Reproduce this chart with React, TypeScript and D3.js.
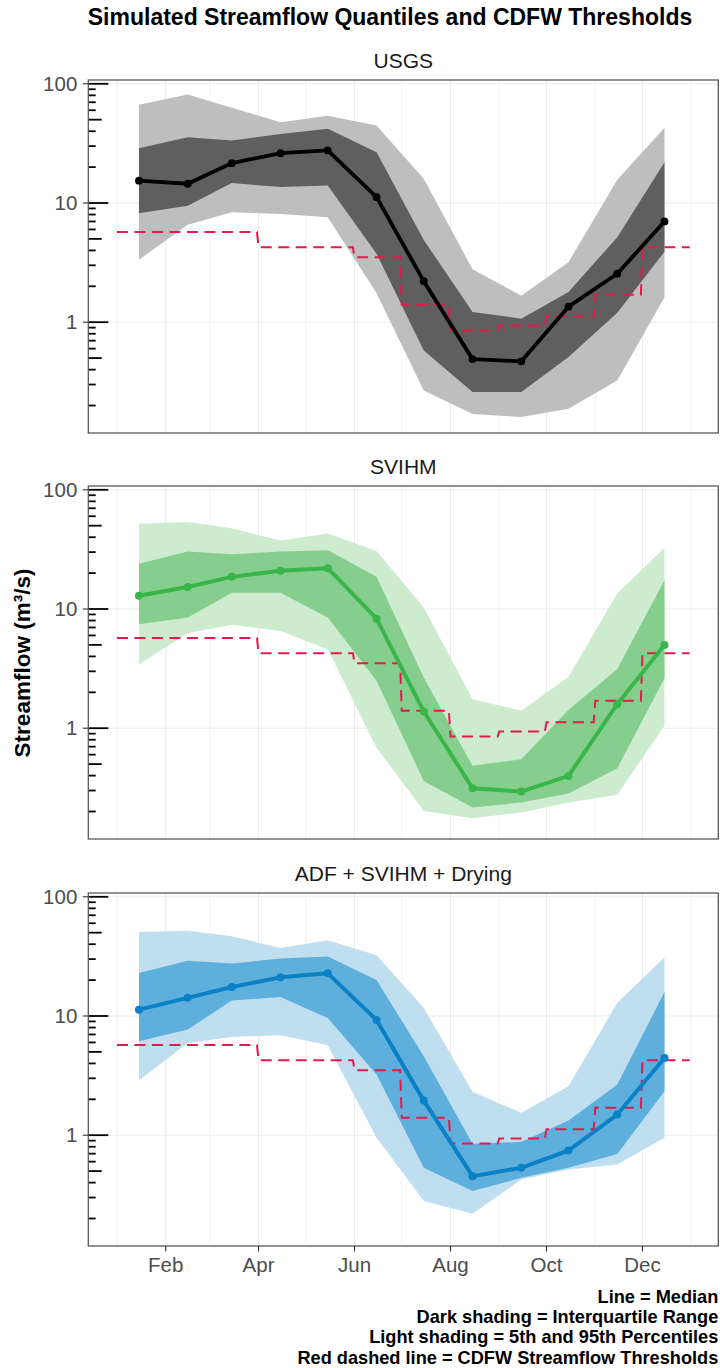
import React from 'react';
import * as d3 from 'd3';

// ---------- data ----------
const months = ['Jan', 'Feb', 'Mar', 'Apr', 'May', 'Jun', 'Jul', 'Aug', 'Sep', 'Oct', 'Nov', 'Dec'];
const YEAR = 2021;

// CDFW monthly thresholds (m3/s)
const thresholdValues = [5.7, 5.7, 5.7, 4.25, 4.25, 3.5, 1.4, 0.85, 0.94, 1.12, 1.7, 4.25];

// USGS
const usgsMedian = [15.4, 14.5, 21.6, 26.2, 27.6, 11.2, 2.21, 0.49, 0.47, 1.35, 2.55, 7.0];
const usgsQ25 = [8.2, 9.5, 14.7, 13.6, 14.0, 3.75, 0.58, 0.26, 0.26, 0.51, 1.2, 3.9];
const usgsQ75 = [28.8, 35.6, 33.4, 38.0, 41.9, 26.7, 4.9, 1.22, 1.07, 1.79, 5.17, 22.0];
const usgsQ05 = [3.34, 6.56, 8.37, 8.1, 7.6, 1.75, 0.267, 0.17, 0.16, 0.188, 0.324, 1.62];
const usgsQ95 = [66.7, 81.3, 63.0, 47.6, 54.0, 44.7, 16.0, 2.78, 1.67, 3.19, 15.7, 42.8];

// SVIHM
const svihmMedian = [12.9, 15.3, 18.6, 20.9, 22.0, 8.3, 1.38, 0.314, 0.294, 0.398, 1.59, 5.0];
const svihmQ25 = [7.45, 8.47, 13.7, 13.7, 8.47, 2.5, 0.361, 0.216, 0.238, 0.283, 0.462, 2.63];
const svihmQ75 = [24.0, 30.3, 28.8, 30.3, 31.1, 18.6, 2.66, 0.483, 0.55, 1.42, 3.13, 17.4];
const svihmQ05 = [3.44, 6.27, 7.36, 6.55, 4.6, 0.687, 0.202, 0.176, 0.196, 0.238, 0.276, 1.05];
const svihmQ95 = [52.0, 53.8, 47.6, 37.3, 42.9, 30.7, 10.3, 1.75, 1.4, 2.7, 13.5, 32.7];

// ADF + SVIHM + Drying
const adfMedian = [11.3, 14.2, 17.5, 21.1, 22.8, 9.26, 1.95, 0.453, 0.532, 0.744, 1.49, 4.45];
const adfQ25 = [6.14, 7.69, 13.5, 14.4, 9.6, 3.23, 0.532, 0.34, 0.439, 0.532, 0.697, 2.34];
const adfQ75 = [22.9, 29.1, 27.5, 30.3, 31.6, 20.0, 4.6, 0.846, 0.879, 1.33, 2.66, 15.9];
const adfQ05 = [2.87, 5.94, 6.67, 6.89, 5.68, 0.95, 0.28, 0.219, 0.425, 0.515, 0.568, 0.95];
const adfQ95 = [50.6, 52.0, 46.6, 37.2, 43.1, 32.3, 11.7, 2.31, 1.54, 2.57, 12.9, 31.0];

const panelNames = ['USGS', 'SVIHM', 'ADF + SVIHM + Drying'];
const yTickValues = [1, 10, 100];
const yTickLabels = ['1', '10', '100'];
const xTickMonths = [1, 3, 5, 7, 9, 11];
const xTickLabels = ['Feb', 'Apr', 'Jun', 'Aug', 'Oct', 'Dec'];
const captionLines = [
  'Line = Median',
  'Dark shading = Interquartile Range',
  'Light shading = 5th and 95th Percentiles',
  'Red dashed line = CDFW Streamflow Thresholds',
];

const panels = [
  { name: panelNames[0], med: usgsMedian, q25: usgsQ25, q75: usgsQ75, q05: usgsQ05, q95: usgsQ95,
    light: '#BEBEBE', dark: '#5F5F5F', line: '#000000', lw: 3.8, r: 3.9 },
  { name: panelNames[1], med: svihmMedian, q25: svihmQ25, q75: svihmQ75, q05: svihmQ05, q95: svihmQ95,
    light: '#CDEBCF', dark: '#86CE8D', line: '#3AB54A', lw: 4.0, r: 4.0 },
  { name: panelNames[2], med: adfMedian, q25: adfQ25, q75: adfQ75, q05: adfQ05, q95: adfQ95,
    light: '#BFDFF0', dark: '#5EAFDB', line: '#0A80C6', lw: 4.0, r: 4.0 },
];

// ---------- layout ----------
const W = 720;
const H = 1368;
const left = 88.3;
const right = 718.3;
const panelTops = [80, 486, 893];
const panelH = 353;
const FONT = '"Liberation Sans", Arial, Helvetica, sans-serif';

const dStart = new Date(YEAR, 0, 1);
const dEnd = new Date(YEAR, 11, 31);
const pad = 0.05 * (+dEnd - +dStart);
const x = d3.scaleTime().domain([new Date(+dStart - pad), new Date(+dEnd + pad)]).range([left, right]);

const midDates = months.map((_, i) => new Date(YEAR, i, 15));
const majorGrid = xTickMonths.map((m) => new Date(YEAR, m, 1));
const minorGrid = [0, 2, 4, 6, 8, 10, 12].map((m) => new Date(YEAR, m, 1));

const thresholdPts: [Date, number][] = [];
thresholdValues.forEach((v, i) => {
  thresholdPts.push([new Date(YEAR, i, 1), v]);
  thresholdPts.push([new Date(YEAR, i + 1, 0), v]);
});

const logTickVals: { v: number; kind: 'long' | 'mid' | 'short' }[] = [];
[0.1, 1, 10, 100].forEach((dec) => {
  for (let k = 1; k <= 9; k++) {
    logTickVals.push({ v: dec * k, kind: k === 1 ? 'long' : k === 5 ? 'mid' : 'short' });
  }
});
const tickLen = { long: 20, mid: 13.4, short: 7.4 };

function Panel({ p, top, showX }: any) {
  const y = d3.scaleLog().domain([0.1176, 107.6]).range([top + panelH, top]);
  const bottom = top + panelH;
  const idx = d3.range(p.med.length);
  const areaOuter = d3.area<number>().x((i) => x(midDates[i])).y0((i) => y(p.q05[i])).y1((i) => y(p.q95[i]));
  const areaInner = d3.area<number>().x((i) => x(midDates[i])).y0((i) => y(p.q25[i])).y1((i) => y(p.q75[i]));
  const medLine = d3.line<number>().x((i) => x(midDates[i])).y((i) => y(p.med[i]));
  const thrLine = d3.line<[Date, number]>().x((d) => x(d[0])).y((d) => y(d[1]));
  const [y0, y1] = y.domain();
  return (
    <g>
      <text x={(left + right) / 2} y={top - 12.5} textAnchor="middle" fontSize={21} fill="#1A1A1A" fontFamily={FONT}>
        {p.name}
      </text>
      <rect x={left} y={top} width={right - left} height={panelH} fill="#FFFFFF" />
      {minorGrid.map((d, i) => (
        <line key={'mg' + i} x1={x(d)} x2={x(d)} y1={top} y2={bottom} stroke="#F0F0F0" strokeWidth={0.9} />
      ))}
      {majorGrid.map((d, i) => (
        <line key={'Mg' + i} x1={x(d)} x2={x(d)} y1={top} y2={bottom} stroke="#EBEBEB" strokeWidth={1.1} />
      ))}
      {yTickValues.map((v, i) => (
        <line key={'hg' + i} x1={left} x2={right} y1={y(v)} y2={y(v)} stroke="#EBEBEB" strokeWidth={1.1} />
      ))}
      <path d={areaOuter(idx) || ''} fill={p.light} />
      <path d={areaInner(idx) || ''} fill={p.dark} />
      <path d={thrLine(thresholdPts) || ''} fill="none" stroke="#E31A4B" strokeWidth={2} strokeDasharray="11 6.5" />
      <path d={medLine(idx) || ''} fill="none" stroke={p.line} strokeWidth={p.lw} strokeLinejoin="round" />
      {idx.map((i) => (
        <circle key={'pt' + i} cx={x(midDates[i])} cy={y(p.med[i])} r={p.r} fill={p.line} />
      ))}
      {logTickVals
        .filter((t) => t.v >= y0 && t.v <= y1)
        .map((t, i) => (
          <line key={'lt' + i} x1={left} x2={left + tickLen[t.kind]} y1={y(t.v)} y2={y(t.v)} stroke="#000" strokeWidth={1.8} />
        ))}
      <rect x={left} y={top} width={right - left} height={panelH} fill="none" stroke="#595959" strokeWidth={1.3} />
      {yTickValues.map((v, i) => (
        <g key={'yt' + i}>
          <line x1={left - 5.5} x2={left} y1={y(v)} y2={y(v)} stroke="#333333" strokeWidth={1.1} />
          <text x={left - 11} y={y(v) + 7.3} textAnchor="end" fontSize={20.5} fill="#4D4D4D" fontFamily={FONT}>
            {yTickLabels[i]}
          </text>
        </g>
      ))}
      {showX &&
        xTickMonths.map((m, i) => {
          const xx = x(new Date(YEAR, m, 1));
          return (
            <g key={'xt' + i}>
              <line x1={xx} x2={xx} y1={bottom} y2={bottom + 5.5} stroke="#333333" strokeWidth={1.1} />
              <text x={xx} y={bottom + 26} textAnchor="middle" fontSize={20.5} fill="#4D4D4D" fontFamily={FONT}>
                {xTickLabels[i]}
              </text>
            </g>
          );
        })}
    </g>
  );
}

export default function App() {
  return (
    <svg width={W} height={H} viewBox={`0 0 ${W} ${H}`} style={{ position: 'absolute', left: 0, top: 0, display: 'block', background: '#FFFFFF' }}>
      <rect x={0} y={0} width={W} height={H} fill="#FFFFFF" />
      <text x={390} y={25} textAnchor="middle" fontSize={23} fontWeight="bold" fill="#000" fontFamily={FONT}>
        Simulated Streamflow Quantiles and CDFW Thresholds
      </text>
      {panels.map((p, i) => (
        <Panel key={p.name} p={p} top={panelTops[i]} showX={i === panels.length - 1} />
      ))}
      <text
        transform={`translate(30, ${(panelTops[0] + panelTops[2] + panelH) / 2}) rotate(-90)`}
        textAnchor="middle"
        fontSize={22.5}
        fontWeight="bold"
        fill="#000"
        fontFamily={FONT}
      >
        Streamflow (m³/s)
      </text>
      {captionLines.map((t, i) => (
        <text key={'cap' + i} x={right} y={1302.5 + i * 20.4} textAnchor="end" fontSize={18.2} fontWeight="bold" fill="#000" fontFamily={FONT}>
          {t}
        </text>
      ))}
    </svg>
  );
}
